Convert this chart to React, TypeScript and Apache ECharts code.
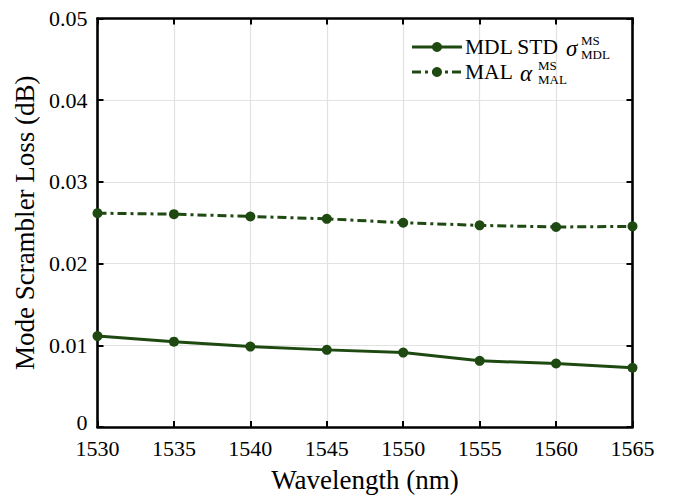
import React, { useEffect, useRef } from "react";
import * as echarts from "echarts";

const wavelengths = [1530, 1535, 1540, 1545, 1550, 1555, 1560, 1565];
const mdlStd = [0.01113, 0.01044, 0.00984, 0.00944, 0.00911, 0.0081, 0.00777, 0.00725];
const mal = [0.02617, 0.02605, 0.02577, 0.02548, 0.025, 0.02468, 0.02448, 0.02456];

const xTicks = { min: 1530, max: 1565, interval: 5 };
const yTicks = { min: 0, max: 0.05, interval: 0.01 };

const GREEN = "#1e4a12";
const FONT = "Liberation Serif";
const MAL_DASH = [9, 4, 3, 4];

export default function App() {
  const ref = useRef<HTMLDivElement>(null);
  useEffect(() => {
    if (!ref.current) return;
    const chart = echarts.init(ref.current, undefined, { renderer: "svg" });
    const axisLine = { show: true, onZero: false, lineStyle: { color: "#000", width: 2.6 } };
    const axisTick = { show: true, inside: true, length: 6, lineStyle: { color: "#000", width: 2 } };
    const splitLine = { show: true, lineStyle: { color: "#e2e2e2", width: 1.2 } };
    const lbl = { color: "#000", fontFamily: FONT, fontSize: 22 };
    const legX = 412;
    const legY1 = 47;
    const legY2 = 72;
    const txt = (text: string, x: number, y: number, size: number, italic = false) => ({
      type: "text",
      x,
      y,
      style: {
        text,
        fill: "#000",
        fontFamily: FONT,
        fontSize: size,
        fontStyle: italic ? "italic" : "normal",
        align: "left",
        verticalAlign: "middle",
      },
      z: 100,
    });
    chart.setOption({
      animation: false,
      textStyle: { fontFamily: FONT },
      grid: { left: 97.5, right: 41.5, top: 18.5, bottom: 66.5, containLabel: false },
      xAxis: [
        {
          type: "value",
          ...xTicks,
          name: "Wavelength (nm)",
          nameLocation: "middle",
          nameGap: 39,
          nameTextStyle: { color: "#000", fontFamily: FONT, fontSize: 27 },
          axisLine,
          axisTick,
          splitLine,
          axisLabel: { ...lbl, margin: 11.5, lineHeight: 20, formatter: (v: number) => String(v) },
        },
        {
          type: "value",
          ...xTicks,
          position: "top",
          axisLine,
          axisTick,
          splitLine: { show: false },
          axisLabel: { show: false },
        },
      ],
      yAxis: [
        {
          type: "value",
          ...yTicks,
          name: "Mode Scrambler Loss (dB)",
          nameLocation: "middle",
          nameGap: 58,
          nameTextStyle: { color: "#000", fontFamily: FONT, fontSize: 27 },
          axisLine,
          axisTick,
          splitLine,
          axisLabel: {
            ...lbl,
            margin: 10,
            lineHeight: 18,
            formatter: (v: number) => (v === 0 ? "{z|0}" : v.toFixed(2)),
            rich: {
              z: { ...lbl, lineHeight: 18, padding: [0, 0, 9, 0] },
            },
          },
        },
        {
          type: "value",
          ...yTicks,
          position: "right",
          axisLine,
          axisTick,
          splitLine: { show: false },
          axisLabel: { show: false },
        },
      ],
      series: [
        {
          name: "MDL STD",
          type: "line",
          data: wavelengths.map((w, i) => [w, mdlStd[i]]),
          symbol: "circle",
          symbolSize: 10,
          itemStyle: { color: GREEN },
          lineStyle: { color: GREEN, width: 3 },
          z: 5,
        },
        {
          name: "MAL",
          type: "line",
          data: wavelengths.map((w, i) => [w, mal[i]]),
          symbol: "circle",
          symbolSize: 10,
          itemStyle: { color: GREEN },
          lineStyle: { color: GREEN, width: 3, type: MAL_DASH },
          z: 5,
        },
      ],
      graphic: [
        {
          type: "line",
          shape: { x1: legX, y1: legY1, x2: legX + 50, y2: legY1 },
          style: { stroke: GREEN, lineWidth: 3 },
          z: 100,
        },
        { type: "circle", shape: { cx: legX + 25, cy: legY1, r: 5 }, style: { fill: GREEN }, z: 101 },
        {
          type: "line",
          shape: { x1: legX, y1: legY2, x2: legX + 50, y2: legY2 },
          style: { stroke: GREEN, lineWidth: 3, lineDash: MAL_DASH },
          z: 100,
        },
        { type: "circle", shape: { cx: legX + 25, cy: legY2, r: 5 }, style: { fill: GREEN }, z: 101 },
        txt("MDL STD", 465, legY1, 21.5),
        txt("σ", 566, legY1 + 1, 23, true),
        txt("MS", 581, legY1 - 6.5, 13),
        txt("MDL", 581, legY1 + 7, 13),
        txt("MAL", 465, legY2, 21.5),
        txt("α", 520, legY2 + 1, 23, true),
        txt("MS", 538, legY2 - 7, 13),
        txt("MAL", 538, legY2 + 7, 13),
      ],
    });
    return () => chart.dispose();
  }, []);
  return (
    <div
      ref={ref}
      style={{ position: "absolute", left: 0, top: 0, width: 674, height: 498 }}
    />
  );
}
